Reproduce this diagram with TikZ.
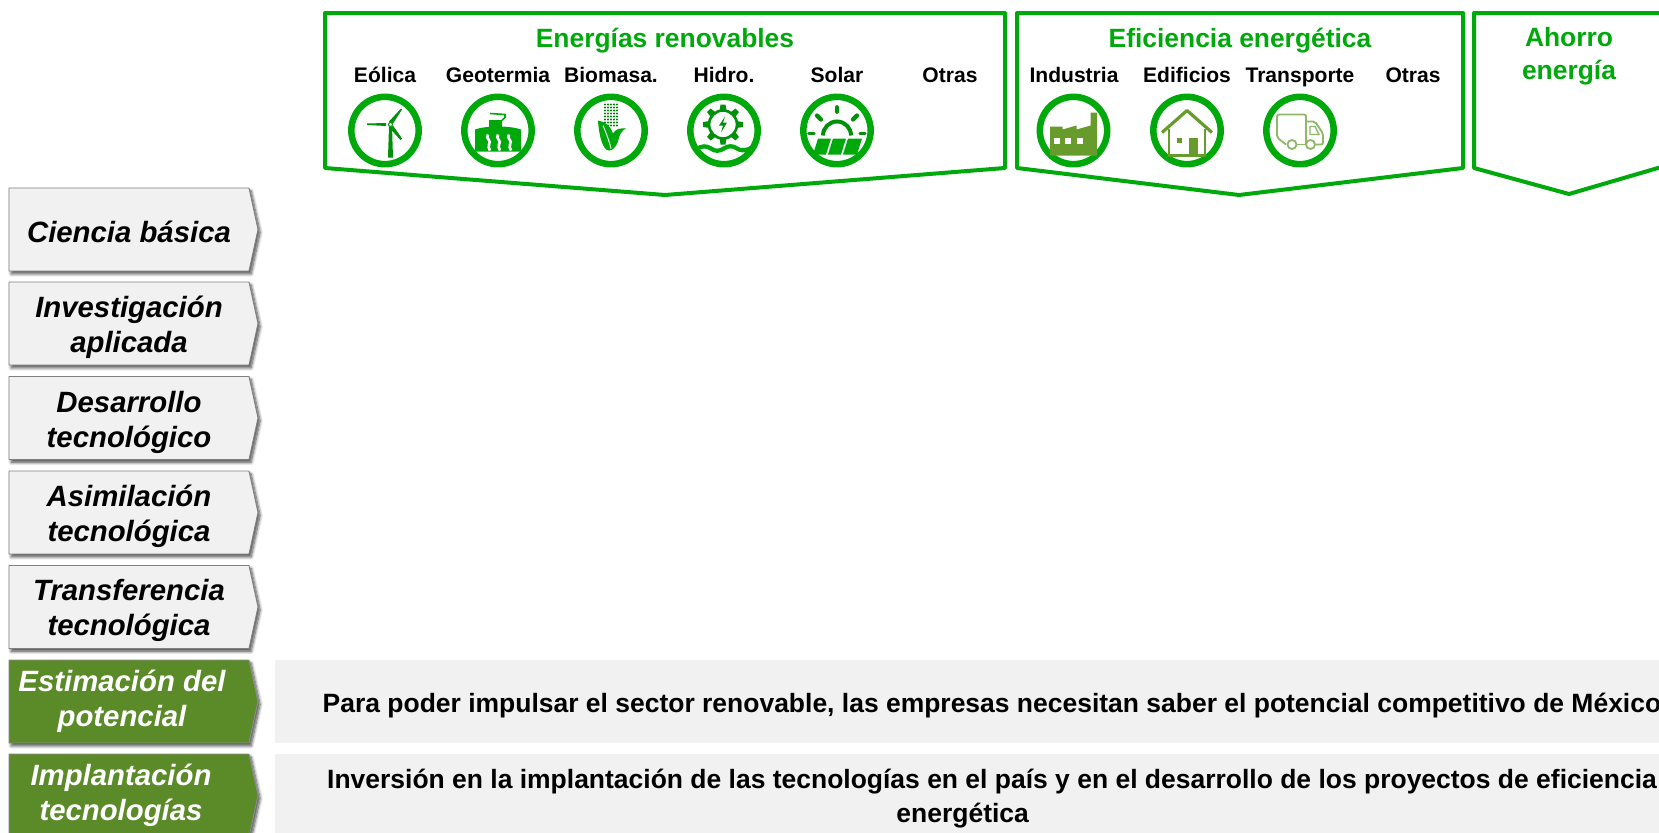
\documentclass[tikz,border=0pt]{standalone}
\usepackage{fontspec}
\setmainfont{Liberation Sans}
\usetikzlibrary{shadows.blur}
\definecolor{rengreen}{HTML}{00A90B}
\definecolor{olivegreen}{HTML}{5B8A28}
\definecolor{iconolive}{HTML}{679C2D}
\definecolor{trucklight}{HTML}{8FB86B}
\definecolor{lightbar}{HTML}{F1F1F1}
\tikzset{
	softshadow/.style={blur shadow={shadow xshift=1.6pt,shadow yshift=-2.2pt,shadow blur radius=2.2pt,shadow blur steps=8,shadow opacity=70}},
	chevgray/.style={draw=black!50,line width=.7pt,fill=lightbar,softshadow},
	chevgreen/.style={draw=black!45,line width=.7pt,fill=olivegreen,softshadow},
	lvl/.style={align=center,text=black,inner sep=0pt,font=\fontsize{22}{26.25}\selectfont\bfseries\itshape},
	lvlw/.style={lvl,text=white},
	panel/.style={draw=rengreen,line width=3pt,line join=round},
	paneltitle/.style={align=center,text=rengreen,inner sep=0pt,font=\fontsize{19.8}{24}\selectfont\bfseries},
	sublabel/.style={anchor=base,inner sep=0pt,text=black,font=\fontsize{15.8}{18}\selectfont\bfseries},
	ring/.style={circle,draw=rengreen,line width=4.9pt,minimum size=50.5pt,inner sep=0pt},
	bartext/.style={align=center,text=black,inner sep=0pt,font=\fontsize{19.85}{25.5}\selectfont\bfseries},
}
\begin{document}
\begin{tikzpicture}[x=.75pt,y=-.75pt]
	\path[use as bounding box,clip] (0,0) rectangle (1659,832);

	\draw[panel] (325,13) -- (1005,13) -- (1005,168) -- (665,195) -- (325,168) -- cycle;
	\draw[panel] (1017,13) -- (1463,13) -- (1463,168) -- (1239,195) -- (1017,168) -- cycle;
	\draw[panel] (1474,13) -- (1675,13) -- (1675,163) -- (1569,194) -- (1474,168) -- cycle;

	\node[paneltitle] (renovables) at (665,41) {Energías renovables};
	\node[paneltitle] (eficiencia) at (1240,41) {Eficiencia energética};
	\node[paneltitle] (ahorro) at (1569,56) {Ahorro\\[1pt]energía};

	\node[sublabel] (eolica) at (385,82.5) {Eólica};
	\node[sublabel] (geotermia) at (498,82.5) {Geotermia};
	\node[sublabel] (biomasa) at (611,82.5) {Biomasa.};
	\node[sublabel] (hidro) at (724,82.5) {Hidro.};
	\node[sublabel] (solar) at (837,82.5) {Solar};
	\node[sublabel] (otrasr) at (950,82.5) {Otras};
	\node[sublabel] (industria) at (1074,82.5) {Industria};
	\node[sublabel] (edificios) at (1187,82.5) {Edificios};
	\node[sublabel] (transporte) at (1300,82.5) {Transporte};
	\node[sublabel] (otrase) at (1413,82.5) {Otras};

	\node[ring] (ringeolica) at (385,130.5) {};
	\node[ring] (ringgeo) at (498,130.5) {};
	\node[ring] (ringbio) at (611,130.5) {};
	\node[ring] (ringhidro) at (724,130.5) {};
	\node[ring] (ringsolar) at (837,130.5) {};
	\node[ring] (ringind) at (1073.5,130.5) {};
	\node[ring] (ringedif) at (1187,130.5) {};
	\node[ring] (ringtrans) at (1300,130.5) {};

	% eolica
	\begin{scope}[shift={(385,130.5)}]
		\fill[rengreen!85!black] (4,-4) -- (7,-4) -- (8,27) -- (3,27) -- cycle;
		\fill[rengreen!85!black] (-18,-7) -- (1,-7.5) -- (1,-4.5) -- (-18,-5.5) -- cycle;
		\fill[rengreen!85!black] (4,-9) -- (16,-22) -- (17,-21) -- (8,-7) -- cycle;
		\fill[rengreen!85!black] (8,-5) -- (17,8) -- (15.5,9.5) -- (5,-2) -- cycle;
		\draw[rengreen!85!black,fill=white,line width=.8pt] (5.5,-6) circle (2);
	\end{scope}

	% geotermia
	\begin{scope}[shift={(498,130.5)}]
		\fill[rengreen] (-23,21) -- (-23,-1) .. controls (-12,-5) and (12,-5) .. (23,-1) -- (23,21) -- cycle;
		\fill[rengreen] (-9,-11) rectangle (4,0);
		\draw[rengreen,line width=1.2pt] (4,-10) -- (7,-13) -- (7,-16) -- (-8,-17);
		\draw[white,line width=2pt] (-10,4) .. controls (-13,8) and (-6,10) .. (-9,14) .. controls (-10,16) and (-9,18) .. (-8,20);
		\draw[white,line width=2pt] (0,4) .. controls (-3,8) and (4,10) .. (1,14) .. controls (0,16) and (1,18) .. (2,20);
		\draw[white,line width=2pt] (11,4) .. controls (8,8) and (15,10) .. (12,14) .. controls (11,16) and (12,18) .. (13,20);
	\end{scope}

	% biomasa
	\begin{scope}[shift={(611,130.5)}]
		\foreach \cx in {-6,-3,0,3,6}
			\foreach \cy in {-26,-23,-20,-17,-14,-11,-8,-5}
				\fill[rengreen!75!black] (\cx,\cy) circle (1.2);
		\fill[rengreen] (-13,-10) .. controls (-6,-9) and (0,-4) .. (2,3) .. controls (4,-1) and (9,-3) .. (15,-2) .. controls (10,0) and (8,6) .. (7,11) .. controls (5,17) and (1,20) .. (-2,20) .. controls (-8,20) and (-12,6) .. (-13,-10);
		\draw[white,line width=.7pt] (-8,-5) .. controls (-5,2) and (-2,10) .. (0,18);
	\end{scope}

	% hidro
	\begin{scope}[shift={(724,130.5)}]
		\begin{scope}[shift={(-1,-6)}]
			\draw[rengreen!85!black,line width=2pt] (0,0) circle (14);
			\foreach \ang in {0,45,...,315}
				\fill[rengreen!85!black,rotate=\ang] (-3.5,-13) -- (-2.5,-20) -- (2.5,-20) -- (3.5,-13) -- cycle;
			\fill[rengreen!85!black] (2,-8) -- (-4,1) -- (0,1) -- (-2,8) -- (4,-2) -- (0,-2) -- cycle;
		\end{scope}
		\draw[rengreen,line width=3.2pt] (-28,19) .. controls (-22,15) and (-18,15) .. (-13,18) .. controls (-9,21) and (-5,21) .. (0,18) .. controls (4,15) and (9,15) .. (13,18) .. controls (17,21) and (23,20) .. (28,17);
	\end{scope}

	% solar
	\begin{scope}[shift={(837,130.5)}]
		\draw[rengreen!85!black,line width=3pt] (-14,5) arc[start angle=180,end angle=360,radius=14];
		\draw[rengreen!85!black,line width=3.6pt,line cap=round] (0,-23) -- (0,-19);
		\draw[rengreen!85!black,line width=3.2pt,line cap=round] (-20,-15) -- (-16,-11);
		\draw[rengreen!85!black,line width=3.2pt,line cap=round] (20,-15) -- (16,-11);
		\draw[rengreen!85!black,line width=2.6pt,line cap=round] (-28,3) -- (-23,3);
		\draw[rengreen!85!black,line width=2.6pt,line cap=round] (28,3) -- (23,3);
		\fill[rengreen] (-19,8) -- (-6,8) -- (-11,24) -- (-24,24) -- cycle;
		\fill[rengreen] (-4,8) -- (9,8) -- (4,24) -- (-9,24) -- cycle;
		\fill[rengreen] (11,8) -- (25,8) -- (20,24) -- (6,24) -- cycle;
	\end{scope}

	% industria
	\begin{scope}[shift={(1073.5,130.5)}]
		\fill[iconolive] (-23.5,25) -- (-23.5,-4) -- (-11,-4) -- (-11,-1) -- (3,-5) -- (3,-1) -- (17,-5) -- (17,-18) -- (23.5,-18) -- (23.5,25) -- cycle;
		\fill[white] (-20,7) rectangle (-14,13);
		\fill[white] (-9,7) rectangle (-3,13);
		\fill[white] (3,7) rectangle (9,13);
	\end{scope}

	% edificios
	\begin{scope}[shift={(1187,130.5)}]
		\draw[iconolive,line width=2.4pt,line join=round] (-25,2) -- (0,-20) -- (25,2);
		\draw[iconolive,line width=2pt] (-18,-2) -- (-18,25) -- (18,25) -- (18,-2);
		\fill[iconolive] (2,7) rectangle (11,25);
		\fill[iconolive] (-10,7) rectangle (-5,12);
	\end{scope}

	% transporte
	\begin{scope}[shift={(1300,130.5)}]
		\draw[trucklight,line width=1.4pt,rounded corners=1.5pt] (-14,14) -- (-23,7) -- (-23,-16) -- (6,-16) -- (6,14);
		\draw[trucklight,line width=1.4pt,rounded corners=1.5pt] (6,-9) -- (15,-9) -- (23,3) -- (23,14) -- (16,14);
		\draw[trucklight,line width=1.4pt] (-3,14) -- (6,14);
		\draw[trucklight,line width=1pt] (10,-4) -- (15,-4) -- (19,4) -- (10,4) -- cycle;
		\draw[trucklight,line width=1.4pt] (-8,14) circle (4.5);
		\draw[trucklight,line width=1.4pt] (10.5,14) circle (4.5);
	\end{scope}

	\draw[chevgray] (9,188) -- (249,188) -- (258,229.5) -- (249,271) -- (9,271) -- cycle;
	\draw[chevgray] (9,282) -- (249,282) -- (258,323.5) -- (249,365) -- (9,365) -- cycle;
	\draw[chevgray] (9,376.5) -- (249,376.5) -- (258,418) -- (249,459.5) -- (9,459.5) -- cycle;
	\draw[chevgray] (9,471) -- (249,471) -- (258,512.5) -- (249,554) -- (9,554) -- cycle;
	\draw[chevgray] (9,565.5) -- (249,565.5) -- (258,607) -- (249,648.5) -- (9,648.5) -- cycle;
	\draw[chevgreen] (9,660) -- (249,660) -- (258,701.5) -- (249,743) -- (9,743) -- cycle;
	\draw[chevgreen] (9,754) -- (249,754) -- (258,795.5) -- (249,837) -- (9,837) -- cycle;

	\node[lvl] (ciencia) at (129,232) {Ciencia básica};
	\node[lvl] (investigacion) at (129,327) {Investigación\\aplicada};
	\node[lvl] (desarrollo) at (129,422) {Desarrollo\\tecnológico};
	\node[lvl] (asimilacion) at (129,516) {Asimilación\\tecnológica};
	\node[lvl] (transferencia) at (129,610) {Transferencia\\tecnológica};
	\node[lvlw] (estimacion) at (122,701) {Estimación del\\potencial};
	\node[lvlw] (implantacion) at (121,795) {Implantación\\tecnologías};

	\fill[lightbar] (275,660) rectangle (1659,743);
	\fill[lightbar] (275,754) rectangle (1659,837);

	\node[bartext] (potencial) at (992,706) {Para poder impulsar el sector renovable, las empresas necesitan saber el potencial competitivo de México};
	\node[bartext] (inversion) at (992,799) {Inversión en la implantación de las tecnologías en el país y en el desarrollo de los proyectos de eficiencia\\energética\hspace*{44pt}};
\end{tikzpicture}
\end{document}
